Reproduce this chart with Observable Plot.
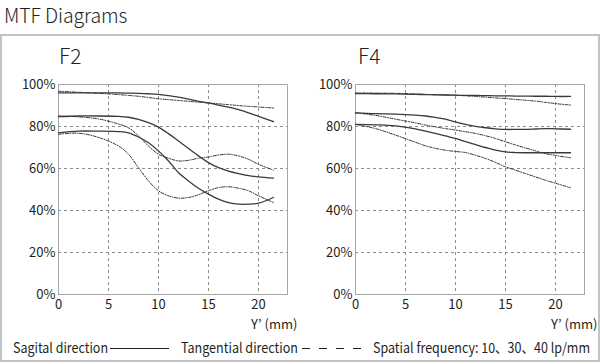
<!DOCTYPE html>
<html>
<head>
<meta charset="utf-8">
<script src="https://cdn.jsdelivr.net/npm/d3@7"></script>
<script src="https://cdn.jsdelivr.net/npm/@observablehq/plot@0.6"></script>
<style>
  html, body { margin: 0; padding: 0; background: #fff; }
  body { width: 600px; height: 364px; position: relative; overflow: hidden;
         font-family: "Noto Sans CJK JP", "Noto Sans", sans-serif; color: #231f20; }
  #title { position: absolute; left: 4px; top: 0px; font-size: 19.5px; line-height: normal; letter-spacing: -0.1px; font-weight: 300; }
  #box { position: absolute; left: 0px; top: 34px; width: 596px; height: 324px; border: 2px solid #c4c4c4; }
  .panel-title { position: absolute; top: 41px; font-size: 21px; line-height: 28px; font-weight: 300; }
  .plot { position: absolute; top: 70px; }
  #legend { position: absolute; left: 0; top: 337px; width: 600px; height: 22px; font-size: 14px; }
  #legend span { position: absolute; top: 0; line-height: 20px; white-space: nowrap; transform-origin: left center; }
  #legend svg { position: absolute; top: 0; }
</style>
</head>
<body>
<div id="title">MTF Diagrams</div>
<div id="box"></div>
<div class="panel-title" style="left:59px">F2</div>
<div class="panel-title" style="left:358px">F4</div>
<div id="p1" class="plot" style="left:0px"></div>
<div id="p2" class="plot" style="left:300px"></div>
<div id="legend"></div>
<script>
// Image height Y' (mm)
const positions = [0, 2, 4, 6, 7, 8, 9, 10, 11, 12, 13, 14, 15, 16, 17, 18, 19, 20, 21.5];
const xTicks = [0, 5, 10, 15, 20];
const yTicks = [0, 20, 40, 60, 80, 100];
const xLabel = "Y\u2019 (mm)";

// F2 — MTF (%)
const f2_sag10 = [96, 96, 96, 96, 95.9, 95.8, 95.6, 95.3, 94.7, 94, 93, 92, 91.2, 90.2, 89.2, 88, 86.5, 84.8, 82.3];
const f2_tan10 = [96.8, 96.3, 95.8, 95.2, 94.8, 94.4, 93.8, 93.2, 92.8, 92.4, 92, 91.6, 91.2, 90.8, 90.4, 90, 89.6, 89.3, 88.8];
const f2_sag30 = [84.7, 85, 85, 84.8, 84.4, 83.4, 81.8, 79.7, 76.6, 73.1, 69.5, 66, 62.8, 60.4, 58.8, 57.6, 56.6, 56, 55.4];
const f2_tan30 = [85, 84.6, 83.6, 81.2, 79.4, 75.5, 70.7, 66.8, 64.9, 63.6, 63.9, 64.9, 65.5, 66.4, 66.8, 66, 64.4, 62, 59.2];
const f2_sag40 = [77, 77.8, 77.8, 77.6, 77, 75, 72.3, 68.4, 63.6, 58, 54.1, 50.6, 47.8, 45.4, 43.8, 43, 43, 43.5, 46.2];
const f2_tan40 = [76.3, 76.8, 74.8, 70.7, 66.8, 60.4, 54.1, 49.4, 47, 45.9, 46.2, 47.5, 49.4, 50.9, 51.3, 50.6, 49.4, 47, 43.8];

// F4 — MTF (%)
const f4_sag10 = [95.7, 95.6, 95.5, 95.3, 95.2, 95.1, 95, 94.9, 94.8, 94.8, 94.7, 94.6, 94.6, 94.5, 94.5, 94.4, 94.4, 94.3, 94.3];
const f4_tan10 = [96, 95.9, 95.8, 95.5, 95.3, 95.1, 95, 94.9, 94.6, 94.3, 94, 93.6, 93.3, 92.9, 92.5, 92.1, 91.5, 90.9, 90.2];
const f4_sag30 = [86.5, 86.1, 85.9, 85.4, 85, 84.3, 83.5, 82.2, 81, 80.1, 79.4, 78.9, 78.6, 78.6, 78.6, 78.8, 79, 78.9, 78.7];
const f4_tan30 = [86.5, 85.3, 83.5, 81.7, 80.7, 79.8, 79, 78.3, 77.5, 76.7, 75.6, 74.3, 72.7, 71.2, 69.8, 68.4, 67.1, 66.2, 65.1];
const f4_sag40 = [81, 80.8, 80.3, 78.9, 77.8, 76.7, 75.5, 74.3, 72.8, 71.4, 70, 68.7, 67.9, 67.6, 67.5, 67.5, 67.5, 67.5, 67.5];
const f4_tan40 = [81, 79, 75.9, 72.5, 70.8, 69.6, 68.7, 68.1, 67.6, 66.3, 64.8, 62.9, 60.8, 59.2, 57.6, 56, 54.4, 53, 50.8];

const legendTexts = ["Sagital direction", "Tangential direction", "Spatial frequency: 10\u300130\u300140 lp/mm"];

function rows(vals, dir, freq) {
  return positions.map((x, i) => ({x, y: vals[i], dir, freq}));
}

function makePlot(series, marginLeft, marginRight) {
  const sag = series.filter(s => s.dir === "S").flatMap(s => rows(s.vals, s.dir, s.freq));
  const tan = series.filter(s => s.dir === "T").flatMap(s => rows(s.vals, s.dir, s.freq));
  return Plot.plot({
    width: 300,
    height: 270,
    marginLeft, marginRight,
    marginTop: 14,
    marginBottom: 46,
    style: {fontFamily: "'Noto Sans CJK JP', 'Noto Sans', sans-serif", fontSize: "13px", color: "#231f20", background: "transparent"},
    x: {domain: [0, 22.9], ticks: xTicks, tickSize: 0, tickPadding: 5, label: xLabel, labelAnchor: "right", labelOffset: 34, labelArrow: "none"},
    y: {domain: [0, 100], ticks: yTicks, tickSize: 0, tickPadding: 3, tickFormat: d => d + "%", label: null},
    marks: [
      Plot.gridX(xTicks.filter(d => d > 0), {stroke: "#8c8c8c", strokeOpacity: 1, strokeDasharray: "3,3", strokeWidth: 1}),
      Plot.gridY(yTicks.filter(d => d > 0 && d < 100), {stroke: "#8c8c8c", strokeOpacity: 1, strokeDasharray: "3,3", strokeWidth: 1}),
      Plot.frame({stroke: "#a6a6a6", strokeWidth: 1}),
      Plot.line(tan, {x: "x", y: "y", z: "freq", stroke: "#333", strokeWidth: 1, strokeDasharray: "3,1.5,1,1.5", curve: "catmull-rom"}),
      Plot.line(sag, {x: "x", y: "y", z: "freq", stroke: "#3a3a3a", strokeWidth: 1.3, curve: "catmull-rom"})
    ]
  });
}

const f2 = [
  {dir: "S", freq: 10, vals: f2_sag10}, {dir: "T", freq: 10, vals: f2_tan10},
  {dir: "S", freq: 30, vals: f2_sag30}, {dir: "T", freq: 30, vals: f2_tan30},
  {dir: "S", freq: 40, vals: f2_sag40}, {dir: "T", freq: 40, vals: f2_tan40}
];
const f4 = [
  {dir: "S", freq: 10, vals: f4_sag10}, {dir: "T", freq: 10, vals: f4_tan10},
  {dir: "S", freq: 30, vals: f4_sag30}, {dir: "T", freq: 30, vals: f4_tan30},
  {dir: "S", freq: 40, vals: f4_sag40}, {dir: "T", freq: 40, vals: f4_tan40}
];

document.getElementById("p1").append(makePlot(f2, 58, 13));
document.getElementById("p2").append(makePlot(f4, 55, 16));

// Legend
const lg = document.getElementById("legend");
function addText(txt, left, width) {
  const s = document.createElement("span");
  s.textContent = txt;
  s.style.left = left + "px";
  lg.append(s);
  const w = s.getBoundingClientRect().width;
  if (w > 0) s.style.transform = `scaleX(${width / w})`;
}
addText(legendTexts[0], 13, 95);
addText(legendTexts[1], 181, 117);
addText(legendTexts[2], 373, 217);
const ns = "http://www.w3.org/2000/svg";
function addLine(x1, x2, dash) {
  const svg = document.createElementNS(ns, "svg");
  svg.setAttribute("width", x2 - x1 + 2);
  svg.setAttribute("height", 20);
  svg.style.left = x1 + "px";
  const l = document.createElementNS(ns, "line");
  l.setAttribute("x1", 0); l.setAttribute("x2", x2 - x1);
  l.setAttribute("y1", 11.5); l.setAttribute("y2", 11.5);
  l.setAttribute("stroke", "#231f20");
  l.setAttribute("stroke-width", 1);
  if (dash) l.setAttribute("stroke-dasharray", dash);
  svg.append(l);
  lg.append(svg);
}
addLine(110, 169, null);
addLine(302, 362, "8,9");
</script>
</body>
</html>
